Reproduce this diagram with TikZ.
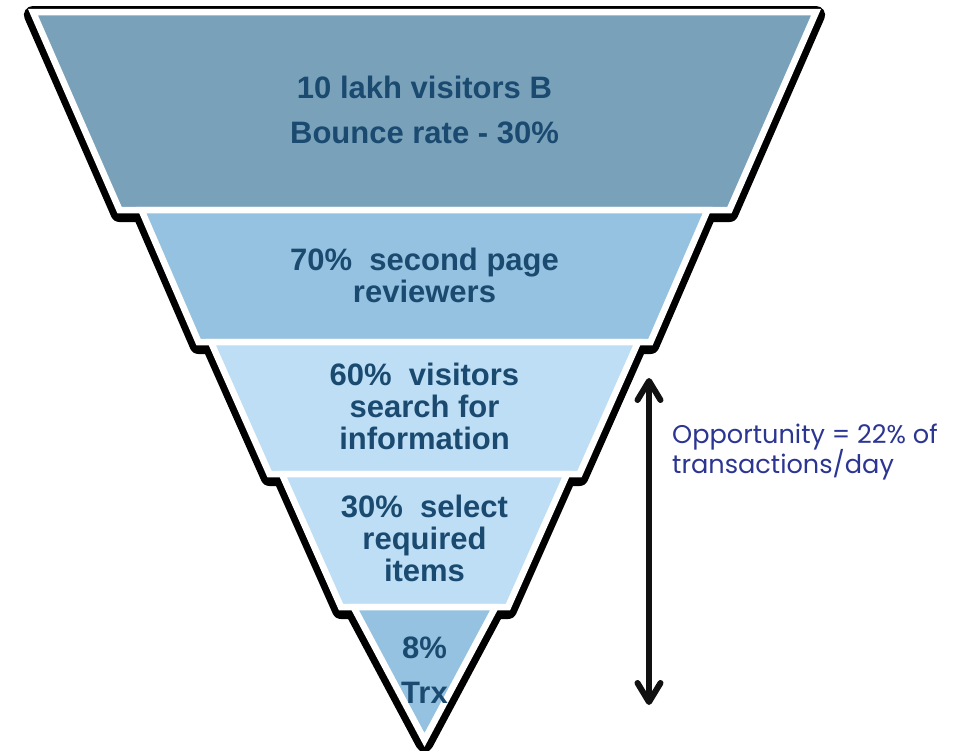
\documentclass[tikz,border=0pt]{standalone}
\usepackage{fontspec}
\setmainfont{Liberation Sans}
\newfontfamily\oppfont{Poppins}
\usetikzlibrary{arrows.meta}
\definecolor{bandA}{HTML}{7AA1BA}
\definecolor{bandB}{HTML}{95C2E0}
\definecolor{bandC}{HTML}{BDDEF4}
\definecolor{txtdark}{HTML}{1A4A70}
\definecolor{opptxt}{HTML}{2B3592}
\definecolor{arrowblack}{HTML}{111111}
\tikzset{
  shadowline/.style={draw=black, line width=18pt, line join=round, fill=black},
  bandbox/.style={draw=white, line width=6.5pt, line join=miter},
  bandtext/.style={text=txtdark, font=\fontsize{31}{32}\selectfont\bfseries, anchor=base, inner sep=0pt},
  opptext/.style={text=opptxt, font=\oppfont\fontsize{25.6}{28}\selectfont, anchor=base west, inner sep=0pt},
  bigarrow/.style={draw=arrowblack, line width=6pt, line cap=round, {Straight Barb[length=19pt,width=23pt,line cap=round,line join=round]}-{Straight Barb[length=19pt,width=23pt,line cap=round,line join=round]}}
}
\begin{document}
\begin{tikzpicture}[x=1pt,y=-1pt]
\useasboundingbox (0,0) rectangle (956,750);
\def\cx{424.5}
% shadow silhouette
\begin{scope}[shift={(0,3)}]
  \path[shadowline] (\cx-391.6,12) -- (\cx+391.6,12) -- (\cx+305,210) -- (\cx-305,210) -- cycle;
  \path[shadowline] (\cx-283.1,210) -- (\cx+283.1,210) -- (\cx+226,342) -- (\cx-226,342) -- cycle;
  \path[shadowline] (\cx-213.6,342) -- (\cx+213.6,342) -- (\cx+155,474) -- (\cx-155,474) -- cycle;
  \path[shadowline] (\cx-142.6,474) -- (\cx+142.6,474) -- (\cx+83.5,607) -- (\cx-83.5,607) -- cycle;
  \path[shadowline] (\cx-71,607) -- (\cx+71,607) -- (\cx,740) -- cycle;
\end{scope}
% bands
\path[bandbox, fill=bandA] (\cx-391.6,12) -- (\cx+391.6,12) -- (\cx+305,210) -- (\cx-305,210) -- cycle;
\path[bandbox, fill=bandB] (\cx-283.1,210) -- (\cx+283.1,210) -- (\cx+226,342) -- (\cx-226,342) -- cycle;
\path[bandbox, fill=bandC] (\cx-213.6,342) -- (\cx+213.6,342) -- (\cx+155,474) -- (\cx-155,474) -- cycle;
\path[bandbox, fill=bandC] (\cx-142.6,474) -- (\cx+142.6,474) -- (\cx+83.5,607) -- (\cx-83.5,607) -- cycle;
\path[bandbox, fill=bandB] (\cx-71,607) -- (\cx+71,607) -- (\cx,740) -- cycle;
% texts
\node[bandtext] (t1a) at (\cx,98) {10 lakh visitors B};
\node[bandtext] (t1b) at (\cx,143) {Bounce rate - 30\%};
\node[bandtext] (t2a) at (\cx,270) {70\%\ \ second page};
\node[bandtext] (t2b) at (\cx,302) {reviewers};
\node[bandtext] (t3a) at (\cx,385) {60\%\ \ visitors};
\node[bandtext] (t3b) at (\cx,417) {search for};
\node[bandtext] (t3c) at (\cx,449) {information};
\node[bandtext] (t4a) at (\cx,517) {30\%\ \ select};
\node[bandtext] (t4b) at (\cx,549) {required};
\node[bandtext] (t4c) at (\cx,581) {items};
\node[bandtext] (t5a) at (\cx,658) {8\%};
\node[bandtext] (t5b) at (\cx,703) {Trx};
% opportunity
\coordinate (arrtop) at (649,378);
\coordinate (arrbot) at (649,705);
\draw[bigarrow] (arrtop) -- (arrbot);
\node[opptext] (opp1) at (672,443) {Opportunity = 22\% of};
\node[opptext] (opp2) at (672,473) {transactions/day};
\end{tikzpicture}
\end{document}
